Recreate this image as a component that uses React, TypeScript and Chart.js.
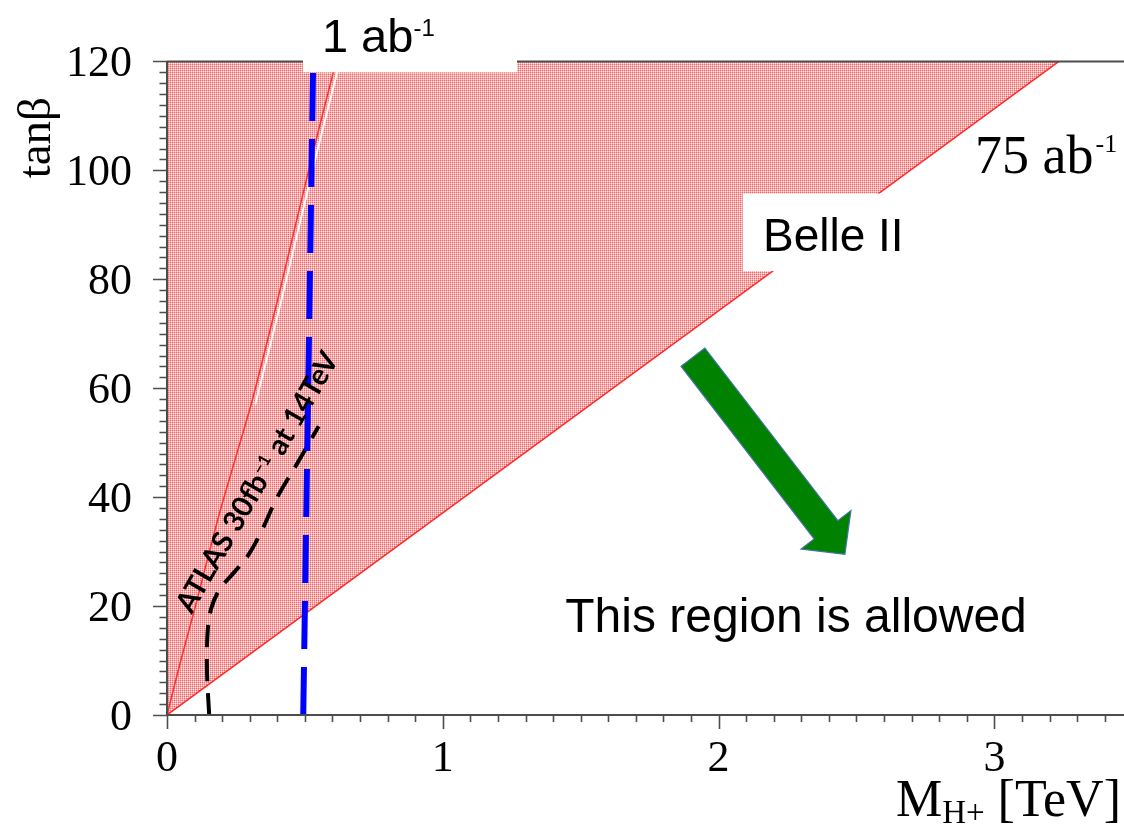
import React, { useEffect, useRef } from 'react';
import { Chart, registerables } from 'chart.js';

Chart.register(...registerables);

// ---- axes ----
const xTickValues = [0, 1, 2, 3];
const yTickValues = [0, 20, 40, 60, 80, 100, 120];
const xMin = 0;
const xMax = 3.47;
const yMin = 0;
const yMax = 120;

// ---- Belle II 75 ab^-1 exclusion boundary (straight line) ----
const belleMass = [0, 3.234];
const belleTanb = [0, 120];

// ---- Belle II 1 ab^-1 boundary (red curve) ----
const redMass = [0, 0.05, 0.098, 0.19, 0.305, 0.4, 0.452, 0.528, 0.613];
const redTanb = [0, 10, 19, 37, 57, 76, 87, 103, 120];

// white companion line of the red curve
const whiteMass = [0.32, 0.414, 0.466, 0.542, 0.627];
const whiteTanb = [57, 76, 87, 103, 120];

// ---- ATLAS 30 fb^-1 at 14 TeV (black dashed) ----
const atlasMass = [0.153, 0.145, 0.147, 0.16, 0.19, 0.24, 0.29, 0.34, 0.4, 0.47, 0.55];
const atlasTanb = [0, 8, 15, 19.5, 23, 26, 29, 33.5, 40, 46, 53];

// ---- 1 ab^-1 (blue dashed) ----
const blueMass = [0.494, 0.53];
const blueTanb = [0, 120];

// ---- arrow (data coordinates) ----
const arrowTail = { x: 1.907, y: 65.7 };
const arrowTip = { x: 2.458, y: 29.5 };

const zip = (xs: number[], ys: number[]) => xs.map((x, i) => ({ x, y: ys[i] }));

function makePattern(ctx: CanvasRenderingContext2D) {
  const pc = document.createElement('canvas');
  pc.width = 2;
  pc.height = 2;
  const g = pc.getContext('2d')!;
  g.fillStyle = 'rgb(247,174,174)';
  g.fillRect(0, 0, 2, 2);
  g.fillStyle = 'rgb(237,104,104)';
  g.fillRect(0, 0, 1, 1);
  g.fillStyle = 'rgb(255,236,236)';
  g.fillRect(1, 1, 1, 1);
  return ctx.createPattern(pc, 'repeat');
}

const decorPlugin = {
  id: 'decor',
  afterDatasetsDraw(chart: any) {
    const { ctx, chartArea: a, scales } = chart;
    const xs = scales.x;
    const ys = scales.y;
    const px = (v: number) => xs.getPixelForValue(v);
    const py = (v: number) => ys.getPixelForValue(v);
    ctx.save();

    // frame
    ctx.strokeStyle = '#4d4d4d';
    ctx.lineWidth = 2;
    ctx.beginPath();
    ctx.moveTo(a.left, a.top);
    ctx.lineTo(a.right, a.top);
    ctx.moveTo(a.left, a.top);
    ctx.lineTo(a.left, a.bottom);
    ctx.lineTo(a.right, a.bottom);
    ctx.stroke();

    // tick marks
    ctx.lineWidth = 1.6;
    ctx.beginPath();
    for (let i = 0; i <= 34; i++) {
      const X = Math.round(px(i / 10)) + 0.5;
      const len = i % 10 === 0 ? 14 : 7;
      ctx.moveTo(X, a.bottom);
      ctx.lineTo(X, a.bottom + len);
    }
    for (let i = 0; i <= 60; i++) {
      const Y = Math.round(py(i * 2)) + 0.5;
      const len = i % 10 === 0 ? 14 : 7.5;
      ctx.moveTo(a.left, Y);
      ctx.lineTo(a.left - len, Y);
    }
    ctx.stroke();

    // green arrow
    {
      const tx = px(arrowTail.x), ty = py(arrowTail.y);
      const hx = px(arrowTip.x), hy = py(arrowTip.y);
      const dx = hx - tx, dy = hy - ty;
      const L = Math.hypot(dx, dy);
      const ux = dx / L, uy = dy / L;
      const nx = -uy, ny = ux;
      const sw = 15, hw = 31.5, hl = 31;
      const kx = hx - ux * hl, ky = hy - uy * hl;
      ctx.beginPath();
      ctx.moveTo(tx + nx * sw, ty + ny * sw);
      ctx.lineTo(kx + nx * sw, ky + ny * sw);
      ctx.lineTo(kx + nx * hw, ky + ny * hw);
      ctx.lineTo(hx, hy);
      ctx.lineTo(kx - nx * hw, ky - ny * hw);
      ctx.lineTo(kx - nx * sw, ky - ny * sw);
      ctx.lineTo(tx - nx * sw, ty - ny * sw);
      ctx.closePath();
      ctx.fillStyle = 'rgb(0,130,0)';
      ctx.fill();
      ctx.strokeStyle = 'rgb(70,114,170)';
      ctx.lineWidth = 1.2;
      ctx.stroke();
    }

    // white boxes
    ctx.fillStyle = '#ffffff';
    {
      const x0 = px(0.493), x1 = px(1.269), y0 = py(130.5), y1 = py(118.0);
      ctx.fillRect(x0, y0, x1 - x0, y1 - y0);
      const b0 = px(2.088), b1 = px(2.83), c0 = py(95.75), c1 = py(81.5);
      ctx.fillRect(b0, c0, b1 - b0, c1 - c0);
    }

    ctx.fillStyle = '#000000';
    ctx.textBaseline = 'alphabetic';
    ctx.textAlign = 'left';

    // 1 ab^-1
    ctx.font = '47px "Liberation Sans"';
    ctx.fillText('1 ab', px(0.5616), py(121.8));
    ctx.font = '24px "Liberation Sans"';
    ctx.fillText('-1', px(0.8935), py(124.6));

    // 75 ab^-1
    {
      const sx = px(2.93);
      const sy = py(99.6);
      ctx.font = '54px "Liberation Serif"';
      ctx.fillText('75 ab', sx, sy);
      const w = ctx.measureText('75 ab').width;
      ctx.font = '26px "Liberation Serif"';
      ctx.fillText('-1', sx + w + 2, sy - 21);
    }

    // Belle II
    ctx.font = '46px "Liberation Sans"';
    ctx.fillText('Belle II', px(2.161), py(85.2));

    // This region is allowed
    ctx.font = '48px "Liberation Sans"';
    ctx.fillText('This region is allowed', px(1.444), py(15.3));

    // ATLAS label (rotated)
    ctx.save();
    ctx.translate(px(0.09), py(18.4));
    ctx.rotate((-60 * Math.PI) / 180);
    ctx.font = 'bold 29px Lato';
    let cx = 0;
    ctx.fillText('ATLAS 30fb', cx, 0);
    cx += ctx.measureText('ATLAS 30fb').width + 1;
    ctx.font = 'bold 17px Lato';
    ctx.fillText('\u22121', cx, -9);
    cx += ctx.measureText('\u22121').width;
    ctx.font = 'bold 29px Lato';
    ctx.fillText(' at 14TeV', cx, 0);
    ctx.restore();

    // y-axis title tanβ
    ctx.save();
    ctx.translate(px(-0.424), py(106));
    ctx.rotate(-Math.PI / 2);
    ctx.font = '47px "Liberation Serif"';
    ctx.textAlign = 'center';
    ctx.fillText('tan\u03b2', 0, 0);
    ctx.restore();

    // x-axis title M_H+ [TeV]
    {
      const right = px(3.459);
      const base = py(-18.6);
      ctx.font = '52px "Liberation Serif"';
      const wM = ctx.measureText('M').width;
      const wT = ctx.measureText(' [TeV]').width;
      ctx.font = '33px "Liberation Serif"';
      const wS = ctx.measureText('H+').width;
      const start = right - wM - wS - wT;
      ctx.font = '52px "Liberation Serif"';
      ctx.fillText('M', start, base);
      ctx.fillText(' [TeV]', start + wM + wS, base);
      ctx.font = '33px "Liberation Serif"';
      ctx.fillText('H+', start + wM, base + 7);
    }

    ctx.restore();
  },
};

export default function App() {
  const ref = useRef<HTMLCanvasElement | null>(null);

  useEffect(() => {
    const canvas = ref.current!;
    const ctx = canvas.getContext('2d')!;
    const pattern = makePattern(ctx);
    const tickFont = { family: '"Liberation Serif"', size: 44 };

    const chart = new Chart(ctx, {
      type: 'line',
      data: {
        datasets: [
          {
            label: 'Belle II 75 ab-1',
            data: zip(belleMass, belleTanb),
            borderColor: 'rgb(250,45,45)',
            borderWidth: 1.5,
            backgroundColor: pattern as any,
            fill: 'end',
            pointRadius: 0,
            order: 5,
          },
          {
            label: 'Belle II 1 ab-1',
            data: zip(redMass, redTanb),
            borderColor: 'rgb(250,50,50)',
            borderWidth: 1.5,
            fill: false,
            pointRadius: 0,
            tension: 0.2,
            order: 4,
          },
          {
            label: 'white',
            data: zip(whiteMass, whiteTanb),
            borderColor: 'rgba(255,255,255,0.9)',
            borderWidth: 2,
            fill: false,
            pointRadius: 0,
            tension: 0.2,
            order: 3,
          },
          {
            label: 'ATLAS 30fb-1 at 14TeV',
            data: zip(atlasMass, atlasTanb),
            borderColor: '#000000',
            borderWidth: 4,
            borderDash: [22, 12],
            fill: false,
            pointRadius: 0,
            tension: 0.35,
            order: 2,
          },
          {
            label: '1 ab-1',
            data: zip(blueMass, blueTanb),
            borderColor: 'rgb(0,0,255)',
            borderWidth: 6,
            borderDash: [48, 18],
            fill: false,
            pointRadius: 0,
            order: 1,
          },
        ],
      },
      options: {
        responsive: false,
        animation: false,
        events: [],
        layout: { padding: { top: 57, left: 0, right: 0, bottom: 0 } },
        plugins: {
          legend: { display: false },
          tooltip: { enabled: false },
          title: { display: false },
        },
        scales: {
          x: {
            type: 'linear',
            position: 'bottom',
            min: xMin,
            max: xMax,
            afterBuildTicks: (s: any) => {
              s.ticks = xTickValues.map((v) => ({ value: v }));
            },
            afterFit: (s: any) => {
              s.height = 120;
            },
            grid: { display: false, drawTicks: false },
            border: { display: false },
            ticks: {
              padding: 18,
              font: tickFont,
              color: '#000000',
              maxRotation: 0,
              autoSkip: false,
              callback: (v: any) => String(v),
            },
          },
          y: {
            type: 'linear',
            min: yMin,
            max: yMax,
            afterBuildTicks: (s: any) => {
              s.ticks = yTickValues.map((v) => ({ value: v }));
            },
            afterFit: (s: any) => {
              s.width = 167;
            },
            grid: { display: false, drawTicks: false },
            border: { display: false },
            ticks: {
              padding: 35,
              labelOffset: 3,
              font: tickFont,
              color: '#000000',
              autoSkip: false,
              callback: (v: any) => String(v),
            },
          },
        },
      },
      plugins: [decorPlugin],
    } as any);

    return () => chart.destroy();
  }, []);

  return (
    <canvas
      ref={ref}
      width={1124}
      height={835}
      style={{ position: 'absolute', left: 0, top: 0, width: 1124, height: 835, display: 'block' }}
    />
  );
}
